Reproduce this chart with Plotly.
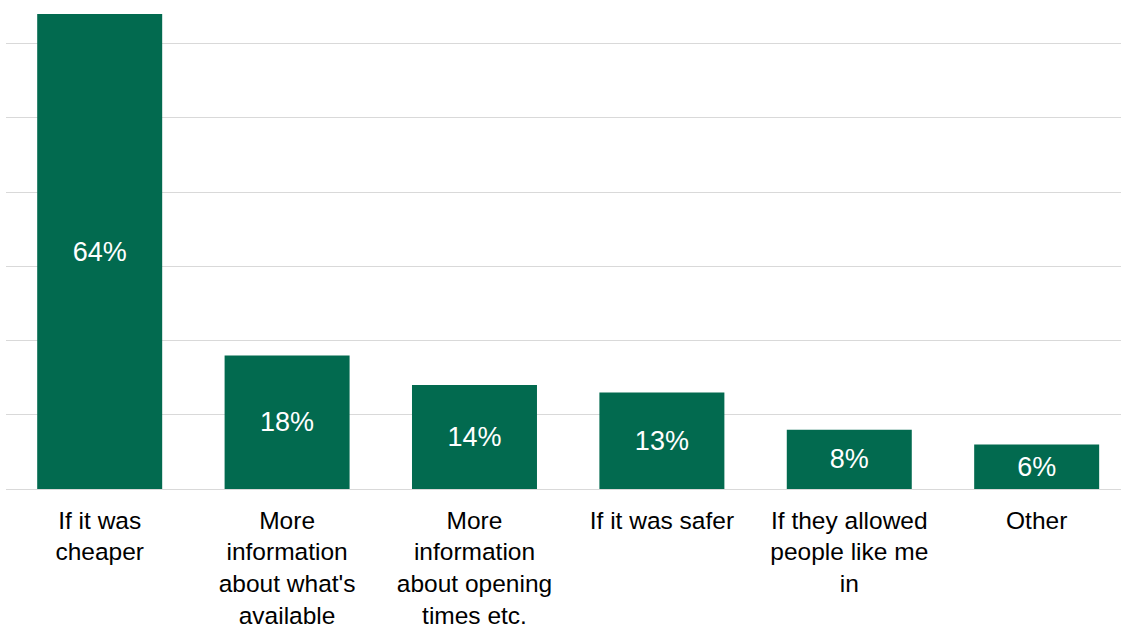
import plotly.graph_objects as go

categories = [
    "If it was<br>cheaper",
    "More<br>information<br>about what's<br>available",
    "More<br>information<br>about opening<br>times etc.",
    "If it was safer",
    "If they allowed<br>people like me<br>in",
    "Other",
]
values = [64, 18, 14, 13, 8, 6]
labels = [f"{v}%" for v in values]

fig = go.Figure(
    go.Bar(
        x=list(range(len(categories))),
        y=values,
        text=labels,
        textposition="inside",
        insidetextanchor="middle",
        textangle=0,
        textfont=dict(family="Liberation Sans, Arial, sans-serif", size=27, color="white"),
        marker=dict(color="#026A4F", line=dict(width=0)),
        width=0.667,
        hoverinfo="skip",
    )
)

fig.update_layout(
    width=1121,
    height=630,
    margin=dict(l=6, r=0, t=0, b=141),
    paper_bgcolor="white",
    plot_bgcolor="white",
    showlegend=False,
    uniformtext=dict(mode=False),
)

fig.update_xaxes(
    tickmode="array",
    tickvals=list(range(len(categories))),
    ticktext=categories,
    range=[-0.5, 5.45],
    showgrid=False,
    showline=False,
    ticks="",
    automargin=False,
    ticklabelstandoff=14,
    tickfont=dict(family="Liberation Sans, Arial, sans-serif", size=24.5, color="black"),
)

fig.update_yaxes(
    range=[0, 65.9],
    dtick=10,
    showticklabels=False,
    showgrid=True,
    gridcolor="#d9d9d9",
    gridwidth=1,
    zeroline=True,
    zerolinecolor="#d9d9d9",
    zerolinewidth=1,
    automargin=False,
)

fig.write_html("out.html")
